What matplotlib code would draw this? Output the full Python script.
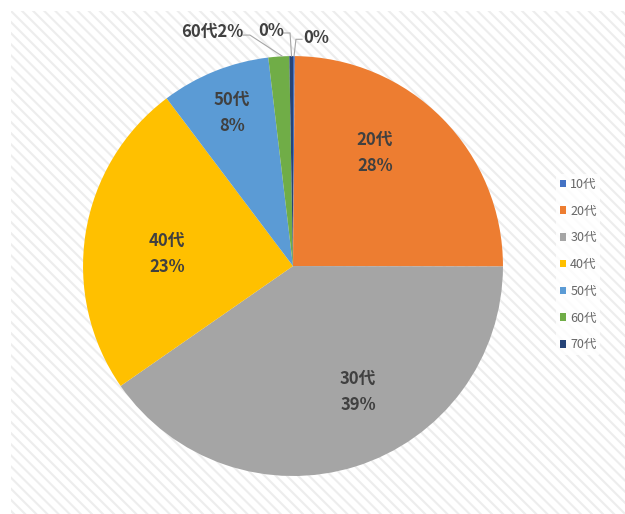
import matplotlib
matplotlib.use("Agg")
import matplotlib.pyplot as plt
from matplotlib.patches import Rectangle, Patch

plt.rcParams['font.family'] = ['Noto Sans CJK JP', 'DejaVu Sans']
plt.rcParams['hatch.linewidth'] = 1.5

# age groups and shares (shares)
groups = ["10代", "20代", "30代", "40代", "50代", "60代", "70代"]
shares = [0.14, 24.9, 40.3, 24.4, 8.4, 1.6, 0.28]
pct_text = ["0%", "28%", "39%", "23%", "8%", "2%", "0%"]
colors = ["#4472C4", "#ED7D31", "#A5A5A5", "#FFC000", "#5B9BD5", "#70AD47", "#264478"]

fig = plt.figure(figsize=(6.25, 5.14), dpi=100)
fig.patch.set_facecolor("white")

# hatched chart area background
bg = Rectangle((11 / 625, 0), 1, 1 - 11 / 514, transform=fig.transFigure,
               facecolor="white", edgecolor="#ededed", linewidth=0,
               hatch="\\" * 3, zorder=-5)
fig.patches.append(bg)

ax = fig.add_axes([0.1328, 0.0739, 0.672, 0.817])
ax.set_zorder(2)
wedges, _ = ax.pie(shares, colors=colors, startangle=90, counterclock=False,
                   radius=1, wedgeprops=dict(linewidth=0))
ax.set_xlim(-1, 1)
ax.set_ylim(-1, 1)
ax.axis("off")

txt = dict(ha="center", va="center", fontsize=12, fontweight="bold", color="#404040")

# labels inside the big slices
inside = {1: (0.39, 0.54), 2: (0.31, -0.60), 3: (-0.60, 0.057), 4: (-0.29, 0.73)}
for i, (x, y) in inside.items():
    ax.text(x, y + 0.062, groups[i], **txt)
    ax.text(x, y - 0.062, pct_text[i], **txt)

# small slices with leader lines
ax.text(-0.386, 1.114, groups[5] + pct_text[5], clip_on=False, **txt)
ax.text(-0.105, 1.119, pct_text[6], clip_on=False, **txt)
ax.text(0.11, 1.086, pct_text[0], clip_on=False, **txt)

lc = dict(color="#a6a6a6", linewidth=0.8, clip_on=False)
ax.plot([-0.238, -0.205, -0.052], [1.10, 1.10, 1.0], **lc)
ax.plot([-0.048, -0.014, -0.007], [1.11, 1.11, 1.0], **lc)
ax.plot([0.043, 0.014, 0.005], [1.08, 1.08, 1.0], **lc)

handles = [Patch(facecolor=c, edgecolor="none") for c in colors]
leg = fig.legend(handles, groups, loc="center", bbox_to_anchor=(0.925, 0.4854),
                 frameon=True, fontsize=9, handlelength=0.55, handleheight=0.55,
                 handletextpad=0.3, labelspacing=1.1, borderpad=0.3)
leg.set_zorder(3)
leg.get_frame().set_facecolor("white")
leg.get_frame().set_edgecolor("none")
for t in leg.get_texts():
    t.set_color("#666666")

fig.savefig("out.png", dpi=100)
